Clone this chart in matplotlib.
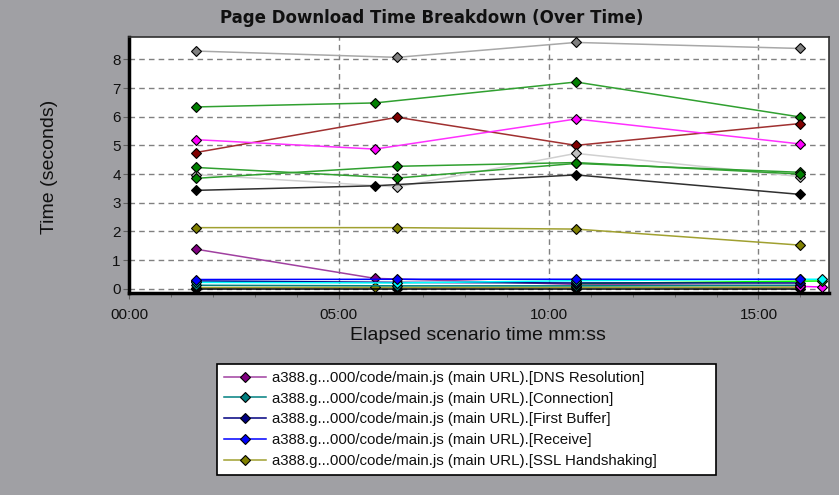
import matplotlib
matplotlib.use("Agg")
import matplotlib.pyplot as plt
from matplotlib.ticker import FuncFormatter, MultipleLocator

plt.rcParams['font.family'] = ['Liberation Sans', 'DejaVu Sans']

# elapsed time (minutes)
x_a = [1.59, 5.86, 10.65, 15.99]
x_b = [1.59, 6.39, 10.65, 15.99]
x_c = [1.59, 6.39, 10.65, 15.99, 16.51]
x_d = [10.65, 16.51]
x_e = [15.99, 16.51]

# upper series (not listed in legend)
gray_vals = [8.29, 8.07, 8.59, 8.38]
green1_vals = [6.34, 6.48, 7.21, 5.99]
darkred_vals = [4.75, 5.98, 5.00, 5.76]
magenta_vals = [5.20, 4.87, 5.92, 5.05]
green2_vals = [4.23, 3.86, 4.37, 4.06]
green3_vals = [3.85, 4.27, 4.40, 4.00]
lightgray_vals = [3.98, 3.55, 4.72, 3.91]
black_vals = [3.43, 3.59, 3.97, 3.29]

# legend series
dns_vals = [1.38, 0.36, 0.15, 0.10]
connection_vals = [0.12, 0.10, 0.10, 0.12]
first_buffer_vals = [0.27, 0.22, 0.20, 0.20]
receive_vals = [0.32, 0.33, 0.33, 0.33]
ssl_vals = [2.13, 2.13, 2.08, 1.52]

# other low series
cyan_vals = [0.22, 0.20, 0.28, 0.33, 0.33]
black_low_vals = [0.0, 0.0, 0.0, 0.0]
olive_low_vals = [0.04, 0.05, 0.05, 0.05]
lime_vals = [0.18, 0.27]
magenta_low_vals = [0.08, 0.06]

legend_labels = [
    "a388.g...000/code/main.js (main URL).[DNS Resolution]",
    "a388.g...000/code/main.js (main URL).[Connection]",
    "a388.g...000/code/main.js (main URL).[First Buffer]",
    "a388.g...000/code/main.js (main URL).[Receive]",
    "a388.g...000/code/main.js (main URL).[SSL Handshaking]",
]

BG = '#A0A0A4'
fig = plt.figure(figsize=(8.39, 4.95), dpi=100, facecolor=BG)
ax = fig.add_axes([129/839, 1-293/495, 700/839, 256/495])
ax.set_facecolor('white')

def series(x, y, line, marker, label=None, z=3):
    return ax.plot(x, y, color=line, lw=1.1, marker='D', markersize=5.3,
                   markerfacecolor=marker, markeredgecolor='black',
                   markeredgewidth=0.8, label=label, zorder=z)[0]

series(x_b, gray_vals, '#A8A8A8', '#808080')
series(x_a, green1_vals, '#30A030', '#008000')
series(x_b, darkred_vals, '#A03030', '#800000')
series(x_a, magenta_vals, '#FF30FF', '#FF00FF')
series(x_b, lightgray_vals, '#D0D0D0', '#C0C0C0')
series(x_b, green2_vals, '#30A030', '#008000')
series(x_b, green3_vals, '#30A030', '#008000')
series(x_a, black_vals, '#303030', '#000000')

h_ssl = series(x_b, ssl_vals, '#A0A030', '#808000', legend_labels[4])
h_dns = series(x_a, dns_vals, '#A040A0', '#800080', legend_labels[0])
series(x_a, olive_low_vals, '#A0A030', '#808000')
series(x_b, black_low_vals, '#000000', '#000000')
h_con = series(x_b, connection_vals, '#008080', '#008080', legend_labels[1])
series(x_e, magenta_low_vals, '#FF00FF', '#FF00FF')
series(x_d, lime_vals, '#00FF00', '#00FF00')
h_fb = series(x_b, first_buffer_vals, '#000080', '#000080', legend_labels[2])
series(x_c, cyan_vals, '#00FFFF', '#00FFFF')
h_rec = series(x_b, receive_vals, '#0000FF', '#0000FF', legend_labels[3])

ax.set_xlim(0, 16.68)
ax.set_ylim(-0.15, 8.78)
ax.xaxis.set_major_locator(MultipleLocator(5))
ax.xaxis.set_minor_locator(MultipleLocator(1))
ax.yaxis.set_major_locator(MultipleLocator(1))

def mmss(v, pos):
    total = int(round(v * 60))
    return f"{total // 60:02d}:{total % 60:02d}"

ax.xaxis.set_major_formatter(FuncFormatter(mmss))
ax.grid(True, which='major', color='#808080', linestyle=(0, (4, 3)), lw=1.0, zorder=0)
ax.set_axisbelow(True)

ax.tick_params(axis='both', which='major', labelsize=11, color='#606060',
               length=4, direction='out', labelcolor='#101010')
ax.tick_params(axis='x', which='minor', color='#606060', length=3, direction='out')
ax.tick_params(axis='x', pad=7)
ax.tick_params(axis='y', pad=2)

for side in ['left', 'bottom']:
    ax.spines[side].set_linewidth(2.5)
    ax.spines[side].set_color('black')
for side in ['top', 'right']:
    ax.spines[side].set_linewidth(1.2)
    ax.spines[side].set_color('#303030')

fig.text(432/839, 1-18/495, "Page Download Time Breakdown (Over Time)",
         ha='center', va='center', fontsize=12, fontweight='bold',
         family=['DejaVu Sans'], color='#101010')
fig.text(478/839, 1-336/495, "Elapsed scenario time mm:ss", ha='center', va='center',
         fontsize=14, color='#101010')
fig.text(50/839, 1-167/495, "Time (seconds)", ha='center', va='center',
         rotation=90, fontsize=14, color='#101010')

handles = [h_dns, h_con, h_fb, h_rec, h_ssl]
leg = fig.legend(handles, legend_labels, loc='upper left',
                 bbox_to_anchor=(217/839, 1-471/495, 499/839, 107/495),
                 bbox_transform=fig.transFigure, mode='expand',
                 frameon=True, fancybox=False, edgecolor='black', facecolor='white',
                 framealpha=1.0, fontsize=10.8, handlelength=2.8, handletextpad=0.45,
                 labelspacing=0.45, borderpad=0.45, borderaxespad=0)
leg.get_frame().set_linewidth(1.2)
for t in leg.get_texts():
    t.set_color('#101010')

fig.savefig('out.png', dpi=100, facecolor=BG)
